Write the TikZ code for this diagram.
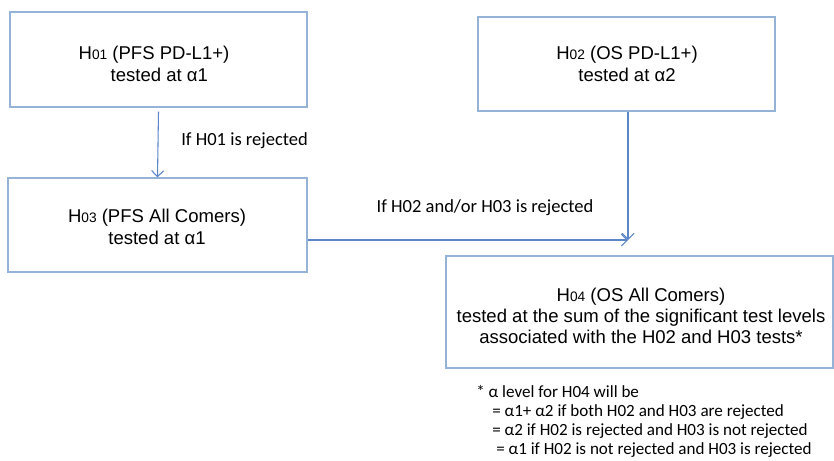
\documentclass[tikz,border=0pt]{standalone}
\usepackage{fontspec}
\setmainfont{Liberation Sans}
\newfontfamily\calibri{Carlito}
\usetikzlibrary{arrows.meta}
\definecolor{boxline}{HTML}{95B3D7}
\definecolor{arrline}{HTML}{5B86C9}
\begin{document}
\begin{tikzpicture}[x=0.75pt,y=-0.75pt,
  hbox/.style={draw=boxline,line width=0.9pt,inner sep=0pt},
  htext/.style={align=center,inner sep=0pt,font=\fontsize{13.9pt}{16.5pt}\selectfont},
  conn/.style={draw=arrline,line width=0.8pt,-{Straight Barb[length=4.5pt,width=9pt,line width=0.8pt]}},
  lbl/.style={font=\calibri\fontsize{13.9pt}{16pt}\selectfont,inner sep=0pt}
]
\useasboundingbox (0,0) rectangle (834,460);
\newcommand{\hs}[1]{H{\fontsize{10.3pt}{10pt}\selectfont #1}}
\node[hbox,minimum width=297*0.75pt,minimum height=95*0.75pt] (h1) at (158.5,59.5) {};
\node[htext] (h1t) at (154,64) {\hs{01} (PFS PD-L1+)\\ \hspace*{8pt}tested at α1};
\node[hbox,minimum width=297*0.75pt,minimum height=94*0.75pt] (h2) at (626.5,64) {};
\node[htext] (h2t) at (627,64) {\hs{02} (OS PD-L1+)\\ tested at α2};
\node[hbox,minimum width=299*0.75pt,minimum height=94*0.75pt] (h3) at (157.5,225) {};
\node[htext] (h3t) at (157,227) {\hs{03} (PFS All Comers)\\ tested at α1};
\node[hbox,minimum width=387*0.75pt,minimum height=112*0.75pt] (h4) at (639.5,312) {};
\node[htext,font=\fontsize{13.9pt}{15.5pt}\selectfont] (h4t) at (641,316)
  {\hs{04} (OS All Comers)\\ tested at the sum of the significant test levels\\ associated with the H02 and H03 tests*};
\coordinate (m) at (628,240);
\draw[conn] ([yshift=-3pt]h1.south) -- (h3.north);
\draw[conn] (h2.south -| m) -- (m);
\draw[conn] (h3.east |- m) -- (m);
\node[lbl,anchor=west] (l1) at (181,141) {If H01 is rejected};
\node[lbl] (l2) at (485,208) {If H02 and/or H03 is rejected};
\node[lbl,anchor=north west,align=left,font=\calibri\fontsize{12.8pt}{14.3pt}\selectfont] (fn) at (476,385)
  {* α level for H04 will be\\
   \hspace*{12pt}= α1+ α2 if both H02 and H03 are rejected\\
   \hspace*{12pt}= α2 if H02 is rejected and H03 is not rejected\\
   \hspace*{15pt}= α1 if H02 is not rejected and H03 is rejected};
\end{tikzpicture}
\end{document}
